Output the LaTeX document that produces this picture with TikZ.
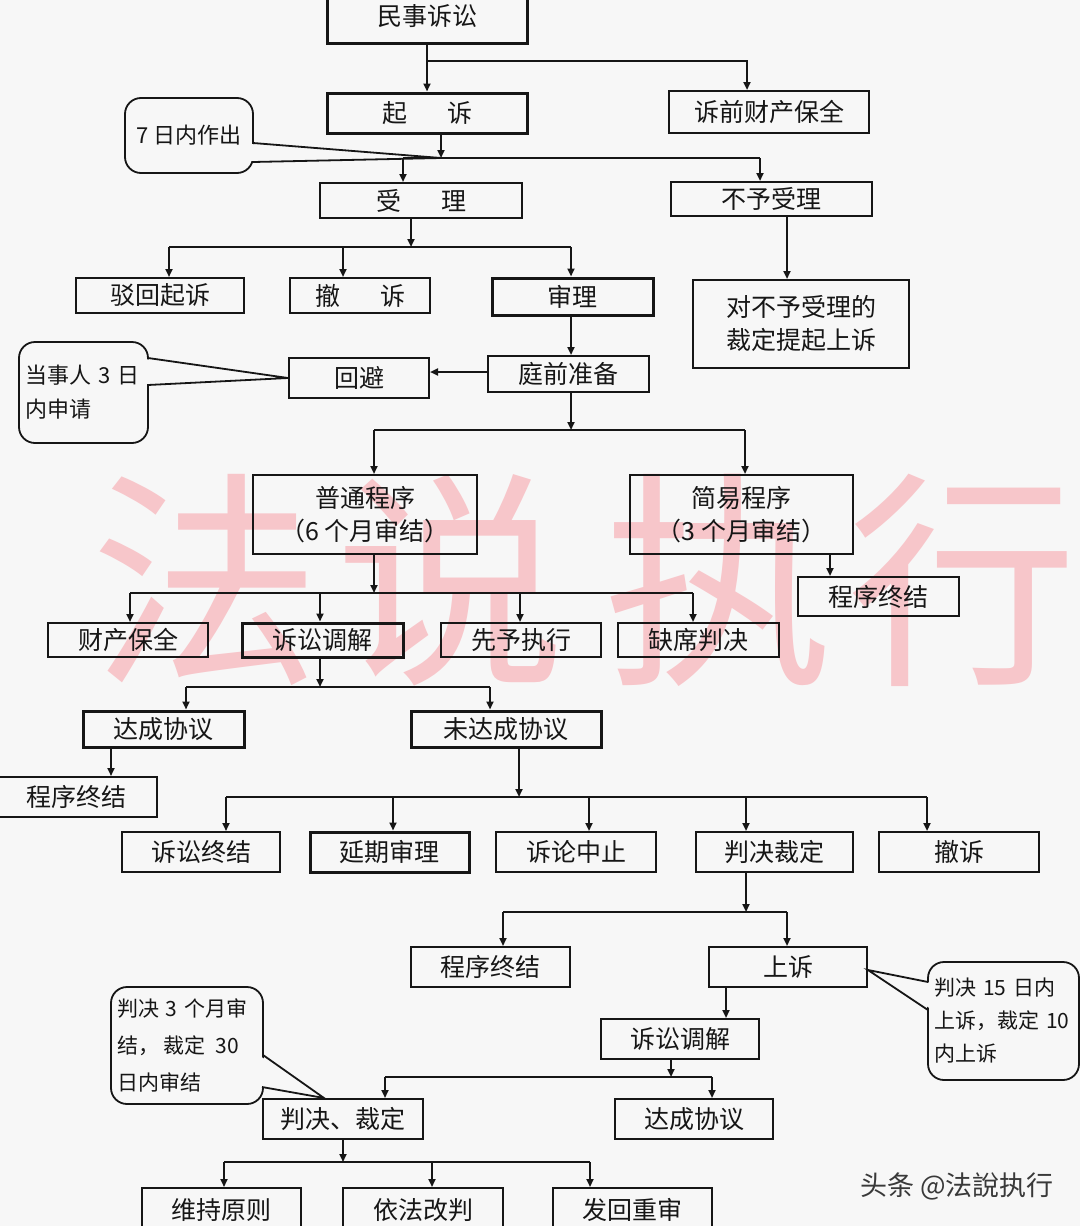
\documentclass[tikz,border=0pt]{standalone}
\usepackage{fontspec}
\newfontfamily\cjk{Noto Sans CJK SC}
\usetikzlibrary{arrows.meta,calc}
\definecolor{bg}{HTML}{F7F7F7}
\definecolor{ink}{HTML}{161616}
\definecolor{wm}{HTML}{F7C6CA}
\begin{document}
\begin{tikzpicture}[x=1pt,y=-1pt,
  sz/.style 2 args={minimum width=#1pt,minimum height=#2pt},
  box/.style={draw=ink,line width=2pt,inner sep=0pt,text=ink,
    font=\cjk\fontsize{25}{33}\selectfont},
  tbox/.style={box,line width=3pt},
  arr/.style={draw=ink,line width=2pt,-{Triangle[length=8pt,width=7pt]}},
  ln/.style={draw=ink,line width=2pt},
  call/.style={draw=ink,line width=1.8pt,rounded corners=16pt,fill=bg,
    inner sep=6pt,text=ink},
  wmk/.style={font=\cjk\fontsize{230}{230}\selectfont,text=wm,inner sep=0pt}]
\fill[bg] (0,0) rectangle (1080,1226);
\useasboundingbox (0,0) rectangle (1080,1226);
\clip (0,0) rectangle (1080,1226);

% background watermark
\node[wmk] (w1) at (205,580) {法};
\node[wmk] (w2) at (450,580) {说};
\node[wmk] (w3) at (718,580) {执};
\node[wmk] (w4) at (962,580) {行};

% boxes
\node[tbox,sz={200}{53}] (minshi) at (427,16.5) {民事诉讼};
\node[tbox,sz={200}{40}] (qisu) at (427,113) {起\hspace{1.6em}诉};
\node[box,sz={200}{42}] (suqian) at (769,112) {诉前财产保全};
\node[box,sz={202}{35}] (shouli) at (421,200.5) {受\hspace{1.6em}理};
\node[box,sz={201}{34}] (buyu) at (771.5,199) {不予受理};
\node[box,sz={168}{35}] (bohui) at (160,295.5) {驳回起诉};
\node[box,sz={140}{35}] (chesu) at (360,295.5) {撤\hspace{1.6em}诉};
\node[tbox,sz={161}{37}] (shenli) at (572.5,296.5) {审理};
\node[box,sz={216}{88},align=center] (duibu) at (801,324) {对不予受理的\\裁定提起上诉};
\node[box,sz={140}{40}] (huibi) at (359,378) {回避};
\node[box,sz={161}{36}] (tingqian) at (568.5,374) {庭前准备};
\node[box,sz={224}{79},align=center] (putong) at (365,514.5) {普通程序\\（6 个月审结）};
\node[box,sz={223}{79},align=center] (jianyi) at (741.5,514.5) {简易程序\\（3 个月审结）};
\node[box,sz={161}{39}] (zj1) at (878.5,596.5) {程序终结};
\node[box,sz={160}{34}] (caichan) at (128,640) {财产保全};
\node[tbox,sz={161}{34}] (tj1) at (322.5,640) {诉讼调解};
\node[box,sz={160}{34}] (xianyu) at (521,640) {先予执行};
\node[box,sz={161}{34}] (quexi) at (698.5,640) {缺席判决};
\node[tbox,sz={161}{36}] (dc1) at (163.5,729) {达成协议};
\node[tbox,sz={190}{36}] (weida) at (506,729) {未达成协议};
\node[box,sz={160}{40}] (zj2) at (77,797) {程序终结};
\node[box,sz={158}{40}] (susong) at (201,852) {诉讼终结};
\node[tbox,sz={159}{40}] (yanqi) at (389.5,852) {延期审理};
\node[box,sz={160}{40}] (zhongzhi) at (576,852) {诉论中止};
\node[box,sz={157}{40}] (panjue) at (774.5,852) {判决裁定};
\node[box,sz={160}{40}] (chesu2) at (959,852) {撤诉};
\node[box,sz={159}{40}] (zj3) at (490.5,967) {程序终结};
\node[box,sz={158}{40}] (shangsu) at (788,967) {上诉};
\node[box,sz={158}{40}] (tj2) at (680,1039) {诉讼调解};
\node[box,sz={160}{40}] (pjcd) at (343,1119) {判决、裁定};
\node[box,sz={158}{40}] (dc2) at (694,1119) {达成协议};
\node[box,sz={159}{48}] (weichi) at (221.5,1212) {\raisebox{7pt}{维持原则}};
\node[box,sz={160}{48}] (yifa) at (423,1212) {\raisebox{7pt}{依法改判}};
\node[box,sz={159}{48}] (fahui) at (632.5,1212) {\raisebox{7pt}{发回重审}};

% junction coordinates
\coordinate (b1) at (427,61);
\coordinate (b1r) at (747,61);
\coordinate (j2) at (441,158);
\coordinate (j2l) at (403,158);
\coordinate (j2r) at (760,158);
\coordinate (j3) at (411,247);
\coordinate (j3l) at (169,247);
\coordinate (j3m) at (343,247);
\coordinate (j3r) at (571,247);
\coordinate (j4) at (571,430);
\coordinate (j4l) at (374,430);
\coordinate (j4r) at (745,430);
\coordinate (j5) at (374,593);
\coordinate (j5a) at (130,593);
\coordinate (j5b) at (320,593);
\coordinate (j5c) at (520,593);
\coordinate (j5d) at (693,593);
\coordinate (j6) at (320,687);
\coordinate (j6l) at (186,687);
\coordinate (j6r) at (490,687);
\coordinate (j7) at (519,797);
\coordinate (j7a) at (226,797);
\coordinate (j7b) at (393,797);
\coordinate (j7c) at (589,797);
\coordinate (j7d) at (746,797);
\coordinate (j7e) at (927,797);
\coordinate (j8) at (746,912);
\coordinate (j8l) at (503,912);
\coordinate (j8r) at (787,912);
\coordinate (j9) at (671,1077);
\coordinate (j9l) at (385,1077);
\coordinate (j9r) at (712,1077);
\coordinate (j10) at (343,1162);
\coordinate (j10a) at (224,1162);
\coordinate (j10b) at (432,1162);
\coordinate (j10c) at (590,1162);

% callouts
\node[call,sz={128}{75},font=\cjk\fontsize{22}{26}\selectfont] (cb1) at (189,135.5) {7 日内作出};
\coordinate (t1a) at (253,143);
\coordinate (t1b) at (253,162);
\fill[bg] ($(t1a)+(-3,1)$) -- (j2) -- ($(t1b)+(-3,-1)$) -- cycle;
\draw[ln,line width=1.8pt] (t1a) -- (j2);
\draw[ln,line width=1.8pt] (t1b) -- (j2);

\node[call,sz={129}{101},text width=117pt,align=left,font=\cjk\fontsize{22}{34}\selectfont] (cb2) at (83.5,392.5) {当事人 3 日\\内申请};
\coordinate (t2a) at (148,358);
\coordinate (t2b) at (148,385);
\coordinate (t2) at (huibi.west);
\fill[bg] ($(t2a)+(-3,1)$) -- (t2) -- ($(t2b)+(-3,-1)$) -- cycle;
\draw[ln,line width=1.8pt] (t2a) -- (t2) -- (t2b);

\node[call,sz={152}{117},text width=140pt,align=left,font=\cjk\fontsize{21}{37}\selectfont] (cb3) at (187,1045.5) {判决 3 个月审\\结，\hspace{0.2em}裁定\hspace{0.5em}30\\日内审结};
\coordinate (t3a) at (263,1055);
\coordinate (t3b) at (262,1087);
\coordinate (t3) at (324,0 |- pjcd.north);
\fill[bg] ($(t3a)+(-3,1)$) -- (t3) -- ($(t3b)+(-3,-1)$) -- cycle;
\draw[ln,line width=1.8pt] (t3a) -- (t3) -- (t3b);

\node[call,sz={151}{118},text width=139pt,align=left,font=\cjk\fontsize{21}{33}\selectfont] (cb4) at (1003.5,1021) {判决 15 日内\\上诉，裁定 10\\内上诉};
\coordinate (t4a) at (928,982);
\coordinate (t4b) at (928,1010);
\coordinate (t4) at (shangsu.east |- 0,970);
\fill[bg] ($(t4a)+(3,1)$) -- (t4) -- ($(t4b)+(3,-1)$) -- cycle;
\draw[ln,line width=1.8pt] (t4a) -- (t4) -- (t4b);

% connectors
\draw[arr] (minshi) -- (qisu);
\draw[arr] (b1) -- (b1r) -- (b1r |- suqian.north);

\draw[arr] (j2 |- qisu.south) -- (j2);
\draw[ln] (j2l) -- (j2r);
\draw[arr] (j2l) -- (j2l |- shouli.north);
\draw[arr] (j2r) -- (j2r |- buyu.north);

\draw[arr] (j3 |- shouli.south) -- (j3);
\draw[ln] (j3l) -- (j3r);
\draw[arr] (j3l) -- (j3l |- bohui.north);
\draw[arr] (j3m) -- (j3m |- chesu.north);
\draw[arr] (j3r) -- (j3r |- shenli.north);

\draw[arr] (787,0 |- buyu.south) -- (787,0 |- duibu.north);
\draw[arr] (571,0 |- shenli.south) -- (571,0 |- tingqian.north);
\draw[arr] (tingqian.west |- 0,372) -- (huibi.east |- 0,372);

\draw[arr] (j4 |- tingqian.south) -- (j4);
\draw[ln] (j4l) -- (j4r);
\draw[arr] (j4l) -- (j4l |- putong.north);
\draw[arr] (j4r) -- (j4r |- jianyi.north);

\draw[arr] (j5 |- putong.south) -- (j5);
\draw[ln] (j5a) -- (j5d);
\draw[arr] (j5a) -- (j5a |- caichan.north);
\draw[arr] (j5b) -- (j5b |- tj1.north);
\draw[arr] (j5c) -- (j5c |- xianyu.north);
\draw[arr] (j5d) -- (j5d |- quexi.north);
\draw[arr] (830,0 |- jianyi.south) -- (830,0 |- zj1.north);

\draw[arr] (j6 |- tj1.south) -- (j6);
\draw[ln] (j6l) -- (j6r);
\draw[arr] (j6l) -- (j6l |- dc1.north);
\draw[arr] (j6r) -- (j6r |- weida.north);
\draw[arr] (111,0 |- dc1.south) -- (111,0 |- zj2.north);

\draw[arr] (j7 |- weida.south) -- (j7);
\draw[ln] (j7a) -- (j7e);
\draw[arr] (j7a) -- (j7a |- susong.north);
\draw[arr] (j7b) -- (j7b |- yanqi.north);
\draw[arr] (j7c) -- (j7c |- zhongzhi.north);
\draw[arr] (j7d) -- (j7d |- panjue.north);
\draw[arr] (j7e) -- (j7e |- chesu2.north);

\draw[arr] (j8 |- panjue.south) -- (j8);
\draw[ln] (j8l) -- (j8r);
\draw[arr] (j8l) -- (j8l |- zj3.north);
\draw[arr] (j8r) -- (j8r |- shangsu.north);

\draw[arr] (726,0 |- shangsu.south) -- (726,0 |- tj2.north);
\draw[arr] (j9 |- tj2.south) -- (j9);
\draw[ln] (j9l) -- (j9r);
\draw[arr] (j9l) -- (j9l |- pjcd.north);
\draw[arr] (j9r) -- (j9r |- dc2.north);

\draw[arr] (j10 |- pjcd.south) -- (j10);
\draw[ln] (j10a) -- (j10c);
\draw[arr] (j10a) -- (j10a |- weichi.north);
\draw[arr] (j10b) -- (j10b |- yifa.north);
\draw[arr] (j10c) -- (j10c |- fahui.north);

% corner mark
\node[font=\cjk\fontsize{27}{27}\selectfont,text=ink!85,inner sep=0pt] (mark) at (957,1186) {头条 @法說执行};
\end{tikzpicture}
\end{document}
